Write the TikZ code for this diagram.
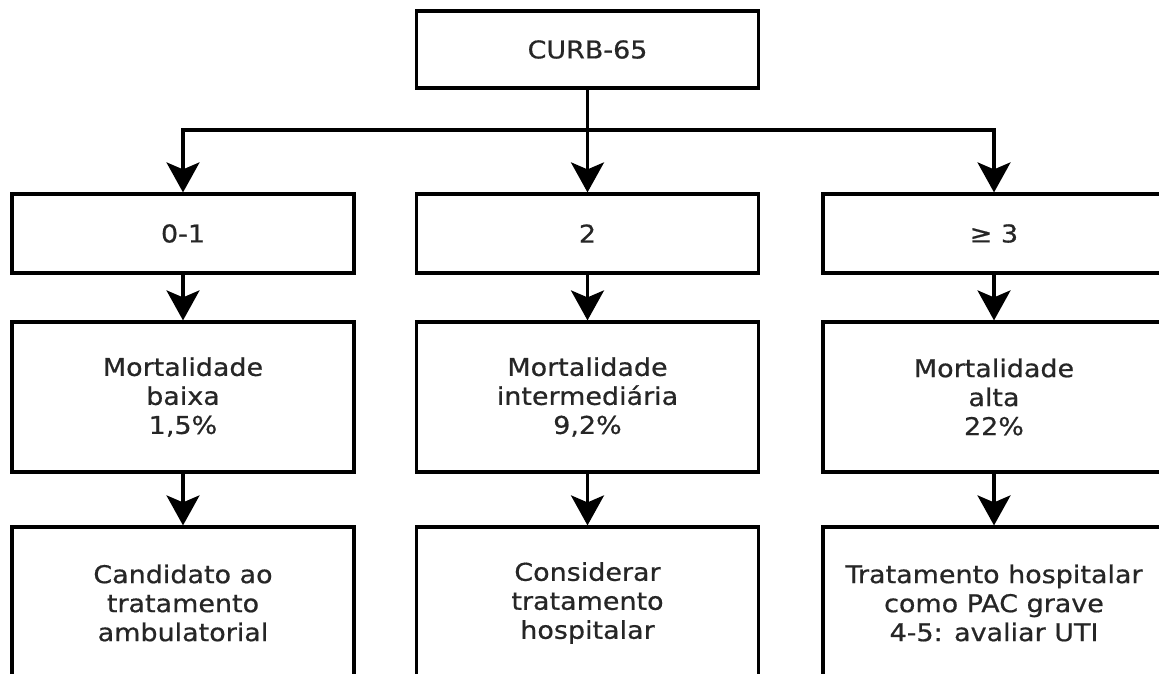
\documentclass[tikz,border=0pt]{standalone}
\usepackage{fontspec}
\setmainfont{DejaVu Sans}[FakeStretch=1.1,FakeBold=0.6]
\usetikzlibrary{arrows.meta,positioning}

\begin{document}
\begin{tikzpicture}[x=1pt,y=1pt,
        caixa/.style={draw, line width=3.2pt, minimum width=342pt, align=center,
            font=\fontsize{24.5}{29}\selectfont, text=black!85},
        seta/.style={line width=3.2pt, -{Stealth[length=30pt,width=33pt,inset=7pt]}}]
        % Área visível da figura
        \clip (0,0) rectangle (1159,-673);
        \fill[white] (0,0) rectangle (1159,-673);

        % Escore
        \node[caixa, minimum height=77pt] (curb) at (587.5,-49.5) {CURB-65};
        \coordinate (ramo) at (587.5,-130);

        % Colunas: pontuação, mortalidade, conduta
        \foreach \n/\x/\pontos/\mort/\conduta in {
            1/183/{0-1}/{Mortalidade\\baixa\\1,5\%}/{Candidato ao\\tratamento\\ambulatorial},
            2/587.5/{2}/{Mortalidade\\intermediária\\9,2\%}/{Considerar\\tratamento\\hospitalar},
            3/994/{≥ 3}/{Mortalidade\\alta\\22\%}/{Tratamento hospitalar\\como PAC grave\\4-5: avaliar UTI}}
        {
            \node[caixa, minimum height=150pt] (mort\n) at (\x,-397) {\mort};
            \node[caixa, minimum height=79pt] (pontos\n) at (\x,-233.5) {\pontos};
            \node[caixa, minimum height=152pt] (conduta\n) at (\x,-603) {\conduta};

            % Setas entre as caixas
            \draw[seta] (pontos\n) -- (mort\n);
            \draw[seta] (mort\n) -- (conduta\n);
        }

        % Ramificação a partir do escore
        \draw[seta] (curb) -- (pontos2);
        \draw[seta] (ramo) -| (pontos1.north);
        \draw[seta] (ramo) -| (pontos3.north);
    \end{tikzpicture}
\end{document}
